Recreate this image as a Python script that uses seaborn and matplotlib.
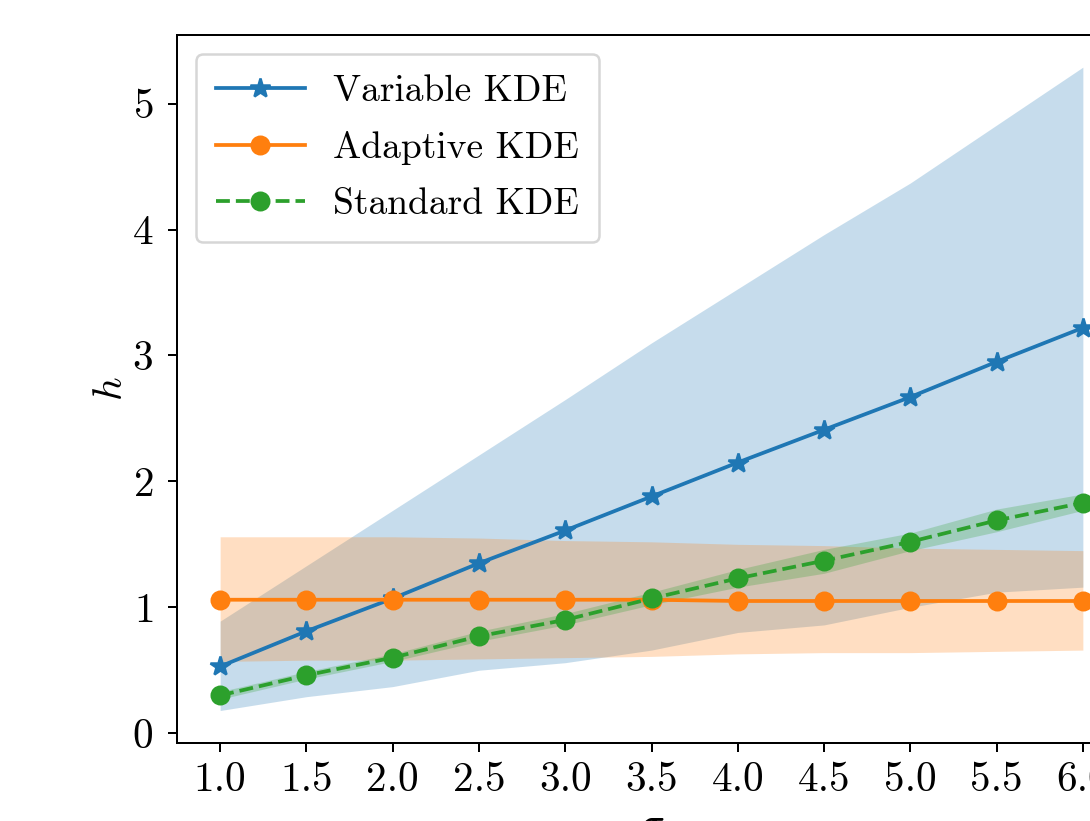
import matplotlib
matplotlib.use("Agg")
import matplotlib.pyplot as plt
import seaborn as sns
import numpy as np

sigma = [1.0, 1.5, 2.0, 2.5, 3.0, 3.5, 4.0, 4.5, 5.0, 5.5, 6.0]

variable = [0.53, 0.81, 1.07, 1.35, 1.61, 1.88, 2.15, 2.41, 2.67, 2.95, 3.22]
var_lo = [0.18, 0.29, 0.37, 0.50, 0.56, 0.66, 0.80, 0.86, 1.00, 1.12, 1.16]
var_hi = [0.89, 1.33, 1.77, 2.21, 2.65, 3.10, 3.53, 3.96, 4.37, 4.83, 5.29]

adaptive = [1.06, 1.06, 1.06, 1.06, 1.06, 1.06, 1.05, 1.05, 1.05, 1.05, 1.05]
ada_lo = [0.57, 0.58, 0.58, 0.59, 0.60, 0.61, 0.63, 0.64, 0.64, 0.65, 0.66]
ada_hi = [1.56, 1.56, 1.56, 1.55, 1.53, 1.52, 1.50, 1.49, 1.47, 1.46, 1.45]

standard = [0.30, 0.46, 0.60, 0.77, 0.90, 1.07, 1.23, 1.37, 1.52, 1.69, 1.83]
std_lo = [0.27, 0.43, 0.57, 0.73, 0.86, 1.02, 1.16, 1.27, 1.45, 1.60, 1.77]
std_hi = [0.33, 0.49, 0.63, 0.81, 0.95, 1.12, 1.30, 1.46, 1.59, 1.78, 1.90]

labels = ["Variable KDE", "Adaptive KDE", "Standard KDE"]

plt.rcParams.update({
    "font.family": "serif",
    "font.serif": ["cmr10"],
    "mathtext.fontset": "cm",
    "axes.unicode_minus": False,
    "axes.formatter.use_mathtext": True,
    "font.size": 16,
    "xtick.labelsize": 16.5,
    "ytick.labelsize": 16.5,
    "axes.labelsize": 16.5,
    "legend.fontsize": 15,
})

c0, c1, c2 = sns.color_palette("tab10")[:3]

fig = plt.figure(figsize=(1090 / 180, 821 / 180), dpi=180)
ax = fig.add_axes([177 / 1090, (821 - 742.7) / 821, (1126 - 177) / 1090, (742.7 - 35) / 821])

ax.fill_between(sigma, var_lo, var_hi, color=c0, alpha=0.25, lw=0)
ax.fill_between(sigma, ada_lo, ada_hi, color=c1, alpha=0.25, lw=0)
ax.fill_between(sigma, std_lo, std_hi, color=c2, alpha=0.25, lw=0)

sns.lineplot(x=sigma, y=variable, ax=ax, color=c0, marker="*", markersize=8,
             markeredgecolor=c0, markeredgewidth=1, linewidth=1.5, label=labels[0])
sns.lineplot(x=sigma, y=adaptive, ax=ax, color=c1, marker="o", markersize=7,
             markeredgecolor=c1, markeredgewidth=1, linewidth=1.5, label=labels[1])
sns.lineplot(x=sigma, y=standard, ax=ax, color=c2, marker="o", markersize=7,
             markeredgecolor=c2, markeredgewidth=1, linewidth=1.5, linestyle="--",
             label=labels[2])

ax.set_xticks(sigma)
ax.set_xticklabels([f"{s:.1f}" for s in sigma])
ax.set_yticks([0, 1, 2, 3, 4, 5])
ax.tick_params(axis="y", pad=6)
ax.tick_params(axis="x", pad=4)
ax.set_xlabel(r"$\sigma$", labelpad=3)
ax.set_ylabel(r"$h$")
ax.yaxis.set_label_coords(-0.05, 0.5)
ax.legend(loc="upper left", handlelength=2.35, handletextpad=0.75,
          labelspacing=0.62, borderpad=0.55)

fig.savefig("out.png", dpi=180)
